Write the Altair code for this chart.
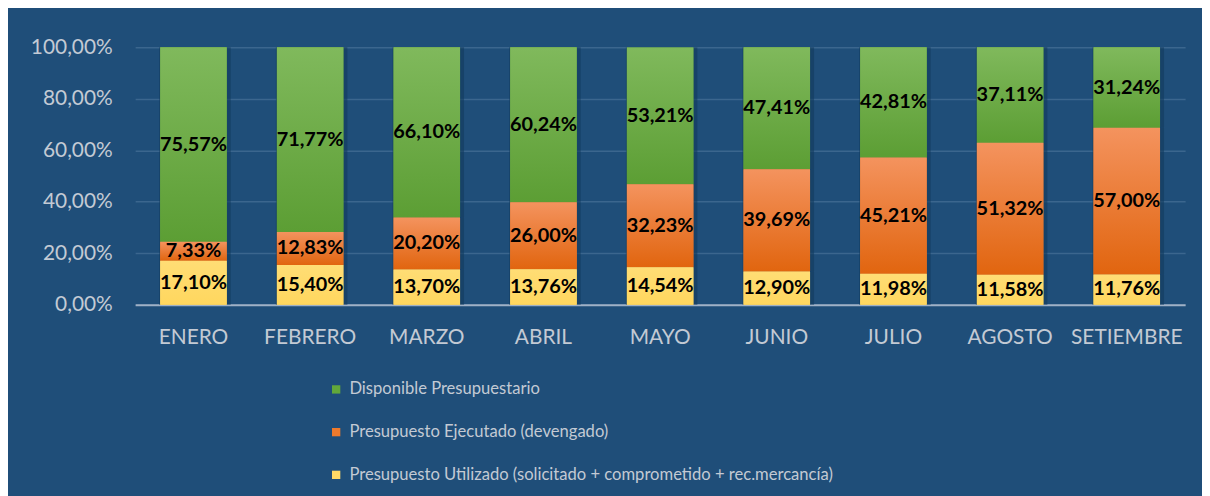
import altair as alt
import pandas as pd

meses = ["ENERO", "FEBRERO", "MARZO", "ABRIL", "MAYO", "JUNIO", "JULIO", "AGOSTO", "SETIEMBRE"]
utilizado = [17.10, 15.40, 13.70, 13.76, 14.54, 12.90, 11.98, 11.58, 11.76]
ejecutado = [7.33, 12.83, 20.20, 26.00, 32.23, 39.69, 45.21, 51.32, 57.00]
disponible = [75.57, 71.77, 66.10, 60.24, 53.21, 47.41, 42.81, 37.11, 31.24]

series = [
    "Disponible Presupuestario",
    "Presupuesto Ejecutado (devengado)",
    "Presupuesto Utilizado (solicitado + comprometido + rec.mercancía)",
]
flat_colors = ["#62A83A", "#EE7A2C", "#FFD966"]
grad_top = ["#80B95C", "#F4935E", "#FFDD75"]
grad_bottom = ["#5C9E34", "#E1650F", "#FFD75E"]
y_ticks = [0, 20, 40, 60, 80, 100]

rows = []
for i, m in enumerate(meses):
    for s, vals, order in ((series[2], utilizado, 0), (series[1], ejecutado, 1), (series[0], disponible, 2)):
        v = vals[i]
        rows.append({"mes": m, "serie": s, "valor": v, "orden": order,
                     "etiqueta": f"{v:.2f}".replace(".", ",") + "%"})
df = pd.DataFrame(rows)

FONT = "Lato"
BG = "#1F4E79"
LABEL_COLOR = "#C3CAD4"

base = (
    alt.Chart(df)
    .transform_stack(stack="valor", groupby=["mes"], as_=["y0", "y1"],
                     sort=[alt.SortField("orden", order="ascending")])
    .transform_calculate(mid="(datum.y0 + datum.y1) / 2")
)

x_enc = alt.X(
    "mes:N", sort=meses,
    scale=alt.Scale(paddingInner=0.43, paddingOuter=0.215),
    axis=alt.Axis(title=None, labelAngle=0, ticks=False, labelPadding=22,
                  labelFont=FONT, labelFontSize=21, labelColor=LABEL_COLOR,
                  domainColor="#9FB1C6", domainWidth=2, grid=False),
)
y_enc = alt.Y(
    "y0:Q",
    scale=alt.Scale(domain=[0, 100], nice=False),
    axis=alt.Axis(title=None, values=y_ticks, ticks=False, domain=False,
                  labelPadding=23, labelFont=FONT, labelFontSize=21,
                  labelColor=LABEL_COLOR, gridColor="#3B668E", gridWidth=1.5,
                  labelExpr="replace(format(datum.value, '.2f'), '.', ',') + '%'"),
)

shadow = base.mark_bar(color="#123A5E", opacity=0.6, size=72, xOffset=1.5).encode(
    x=x_enc, y=y_enc, y2="y1:Q"
)

flat = base.mark_bar().encode(
    x=x_enc, y=y_enc, y2="y1:Q",
    color=alt.Color(
        "serie:N",
        scale=alt.Scale(domain=series, range=flat_colors),
        legend=alt.Legend(
            title=None, orient="none", legendX=194, legendY=336,
            direction="vertical", symbolType="square", symbolSize=70,
            symbolStrokeWidth=0, labelFont=FONT, labelFontSize=16.7,
            labelColor=LABEL_COLOR, rowPadding=25, labelLimit=0, labelOffset=5,
        ),
    ),
)

grad_layers = []
for s, top, bot in zip(series, grad_top, grad_bottom):
    grad_layers.append(
        base.transform_filter(alt.datum.serie == s)
        .mark_bar(fill=alt.Gradient(
            gradient="linear", x1=0, x2=0, y1=0, y2=1,
            stops=[alt.GradientStop(color=top, offset=0),
                   alt.GradientStop(color=bot, offset=1)]))
        .encode(x=x_enc, y=y_enc, y2="y1:Q")
    )

labels = base.mark_text(font=FONT, fontWeight="bold", fontSize=20, color="#000000").encode(
    x=x_enc, y=alt.Y("mid:Q"), text="etiqueta:N"
)

chart = (
    alt.layer(shadow, flat, *grad_layers, labels)
    .properties(
        width=1057, height=259,
        autosize=alt.AutoSizeParams(type="none"),
        padding={"left": 128, "top": 38, "right": 17, "bottom": 191},
        background=BG,
    )
    .configure_view(stroke=None)
)

chart.save("out.html", embed_options={"renderer": "svg", "actions": False})
